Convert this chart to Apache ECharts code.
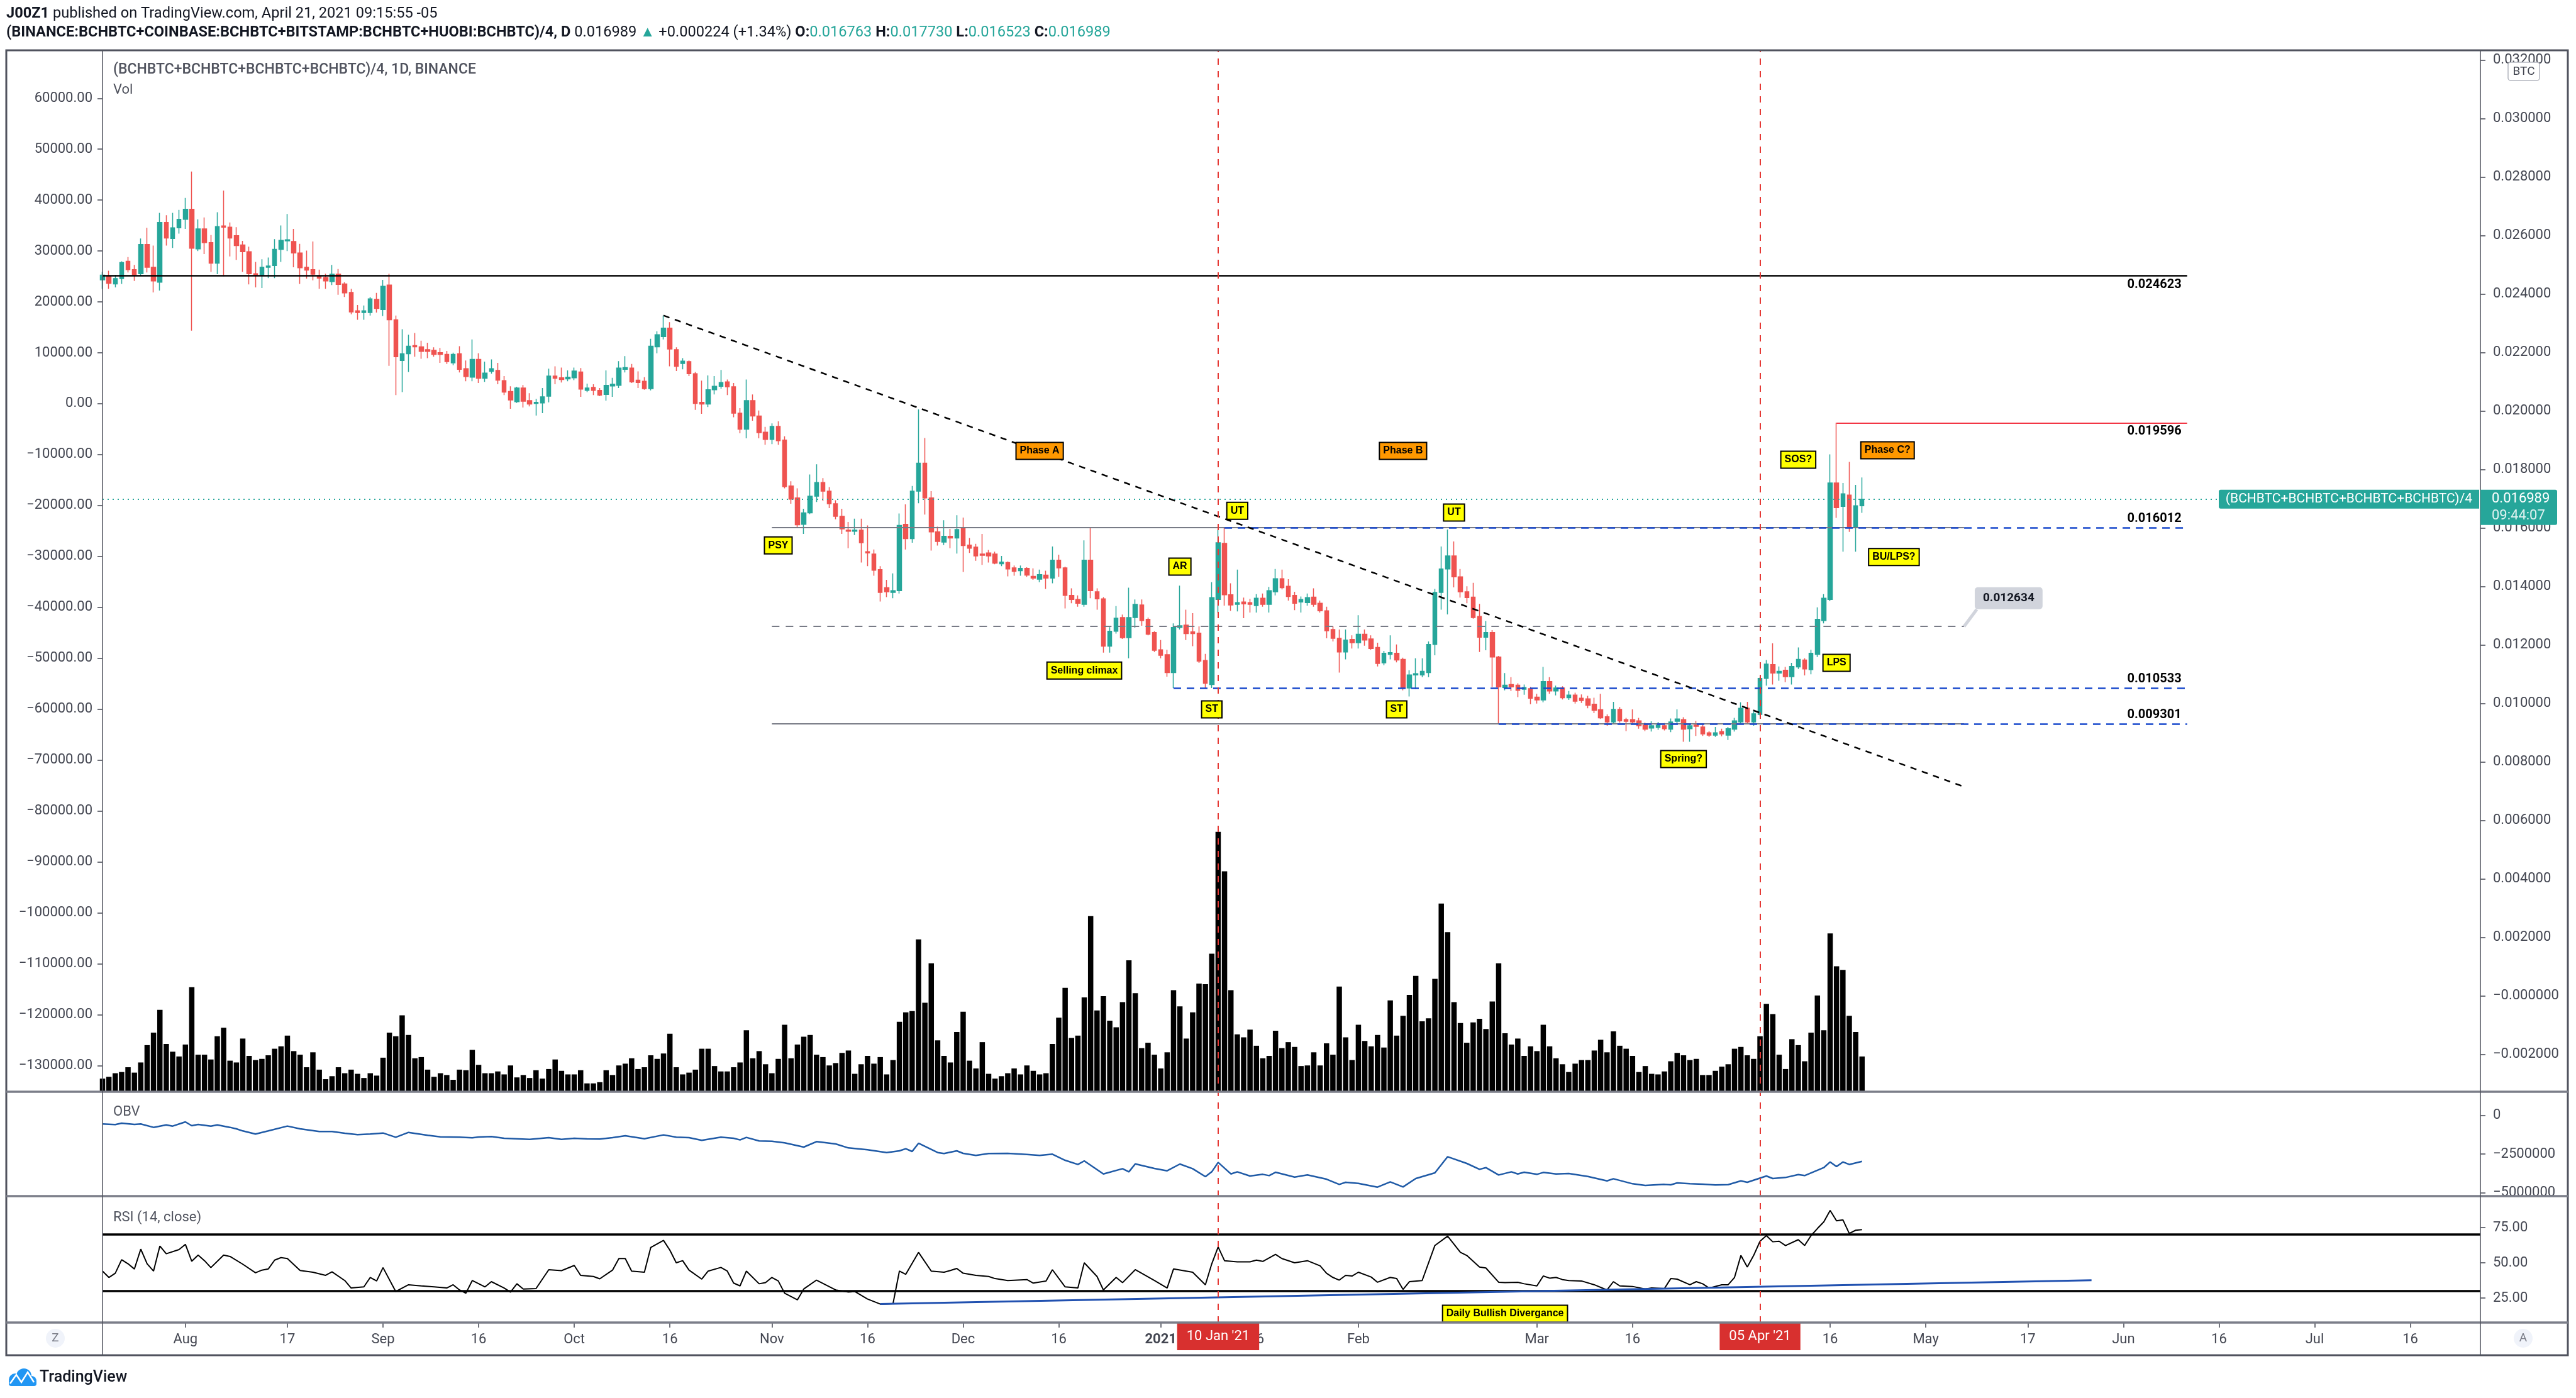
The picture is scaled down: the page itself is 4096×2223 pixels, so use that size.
<!DOCTYPE html>
<html><head><meta charset="utf-8">
<script src="https://cdn.jsdelivr.net/npm/echarts@6/dist/echarts.min.js"></script>
<style>html,body{margin:0;padding:0;background:#fff}#c{width:4096px;height:2223px}</style>
</head><body><div id="c"></div>
<script>
// ---------------- DATA ----------------
const startDate = [2020, 6, 19];   // 19 Jul 2020 (first candle)
const dayCount = 374;              // axis runs to 27 Jul 2021
const opens = [0.02449,0.02461,0.02435,0.02453,0.02512,0.02484,0.02470,0.02570,0.02492,0.02441,
0.02645,0.02590,0.02627,0.02656,0.02690,0.02555,0.02623,0.02576,0.02506,0.02633,
0.02629,0.02600,0.02568,0.02545,0.02470,0.02466,0.02492,0.02498,0.02553,0.02582,
0.02580,0.02541,0.02492,0.02484,0.02461,0.02457,0.02443,0.02468,0.02435,0.02406,
0.02343,0.02337,0.02337,0.02382,0.02347,0.02431,0.02312,0.02173,0.02196,0.02224,
0.02220,0.02210,0.02208,0.02200,0.02194,0.02165,0.02196,0.02145,0.02116,0.02177,
0.02112,0.02136,0.02139,0.02104,0.02067,0.02032,0.02079,0.02036,0.02026,0.02028,
0.02051,0.02120,0.02114,0.02110,0.02114,0.02134,0.02071,0.02081,0.02071,0.02057,
0.02086,0.02088,0.02143,0.02147,0.02106,0.02102,0.02077,0.02220,0.02255,0.02284,
0.02210,0.02163,0.02169,0.02128,0.02030,0.02024,0.02073,0.02085,0.02100,0.02083,
0.01993,0.01938,0.02036,0.01983,0.01928,0.01903,0.01948,0.01901,0.01744,0.01703,
0.01613,0.01652,0.01709,0.01756,0.01726,0.01683,0.01640,0.01593,0.01589,0.01593,
0.01519,0.01511,0.01458,0.01396,0.01380,0.01386,0.01613,0.01564,0.01726,0.01822,
0.01703,0.01587,0.01552,0.01572,0.01566,0.01599,0.01542,0.01535,0.01511,0.01515,
0.01511,0.01478,0.01482,0.01464,0.01454,0.01462,0.01435,0.01425,0.01439,0.01429,
0.01490,0.01464,0.01370,0.01356,0.01339,0.01490,0.01382,0.01358,0.01196,0.01247,
0.01294,0.01225,0.01294,0.01337,0.01288,0.01243,0.01184,0.01167,0.01106,0.01260,
0.01268,0.01245,0.01241,0.01147,0.01065,0.01356,0.01548,0.01372,0.01339,0.01347,
0.01345,0.01335,0.01360,0.01339,0.01382,0.01427,0.01401,0.01370,0.01347,0.01345,
0.01364,0.01343,0.01317,0.01253,0.01223,0.01176,0.01219,0.01208,0.01237,0.01221,
0.01192,0.01139,0.01168,0.01172,0.01151,0.01053,0.01098,0.01098,0.01106,0.01202,
0.01380,0.01460,0.01505,0.01433,0.01382,0.01364,0.01298,0.01227,0.01243,0.01159,
0.01055,0.01065,0.01063,0.01049,0.01051,0.01022,0.01012,0.01075,0.01043,0.01053,
0.01020,0.01029,0.01018,0.01016,0.00998,0.00979,0.00955,0.00937,0.00980,0.00945,
0.00945,0.00941,0.00926,0.00916,0.00918,0.00924,0.00912,0.00939,0.00945,0.00914,
0.00926,0.00920,0.00900,0.00892,0.00904,0.00892,0.00912,0.00937,0.00984,0.00937,
0.00963,0.01086,0.01133,0.01104,0.01114,0.01092,0.01125,0.01149,0.01116,0.01168,
0.01284,0.01356,0.01754,0.01674,0.01713,0.01605,0.016763];
const closes = [0.02465,0.02437,0.02453,0.02508,0.02484,0.02466,0.02570,0.02492,0.02445,0.02645,
0.02592,0.02627,0.02656,0.02690,0.02557,0.02623,0.02576,0.02506,0.02631,0.02629,
0.02592,0.02566,0.02545,0.02470,0.02466,0.02492,0.02496,0.02553,0.02584,0.02586,
0.02541,0.02490,0.02482,0.02468,0.02455,0.02445,0.02468,0.02433,0.02404,0.02339,
0.02337,0.02343,0.02384,0.02351,0.02427,0.02312,0.02186,0.02196,0.02222,0.02220,
0.02204,0.02204,0.02194,0.02194,0.02169,0.02194,0.02143,0.02118,0.02177,0.02112,
0.02130,0.02145,0.02106,0.02065,0.02038,0.02079,0.02034,0.02024,0.02030,0.02049,
0.02120,0.02112,0.02108,0.02116,0.02137,0.02075,0.02079,0.02071,0.02055,0.02088,
0.02092,0.02147,0.02149,0.02100,0.02098,0.02077,0.02222,0.02261,0.02284,0.02212,
0.02153,0.02171,0.02128,0.02026,0.02024,0.02073,0.02085,0.02098,0.02083,0.01993,
0.01938,0.02036,0.01983,0.01926,0.01903,0.01948,0.01899,0.01742,0.01699,0.01611,
0.01652,0.01709,0.01756,0.01726,0.01683,0.01640,0.01597,0.01589,0.01593,0.01550,
0.01515,0.01456,0.01380,0.01382,0.01386,0.01609,0.01564,0.01726,0.01822,0.01703,
0.01587,0.01554,0.01572,0.01566,0.01595,0.01540,0.01531,0.01505,0.01507,0.01505,
0.01480,0.01484,0.01460,0.01452,0.01462,0.01439,0.01429,0.01441,0.01429,0.01490,
0.01464,0.01370,0.01356,0.01343,0.01490,0.01386,0.01358,0.01196,0.01247,0.01292,
0.01225,0.01294,0.01339,0.01284,0.01237,0.01182,0.01165,0.01106,0.01260,0.01266,
0.01239,0.01239,0.01145,0.01069,0.01362,0.01550,0.01372,0.01337,0.01345,0.01341,
0.01339,0.01360,0.01339,0.01386,0.01427,0.01396,0.01366,0.01343,0.01356,0.01362,
0.01339,0.01317,0.01249,0.01223,0.01176,0.01217,0.01208,0.01237,0.01217,0.01188,
0.01137,0.01172,0.01174,0.01149,0.01053,0.01098,0.01102,0.01110,0.01202,0.01380,
0.01460,0.01505,0.01433,0.01382,0.01362,0.01294,0.01227,0.01243,0.01159,0.01057,
0.01063,0.01057,0.01045,0.01055,0.01018,0.01012,0.01075,0.01043,0.01053,0.01020,
0.01029,0.01008,0.01010,0.00994,0.00977,0.00951,0.00937,0.00980,0.00941,0.00939,
0.00937,0.00924,0.00912,0.00924,0.00926,0.00914,0.00937,0.00947,0.00912,0.00924,
0.00922,0.00896,0.00892,0.00900,0.00896,0.00914,0.00941,0.00984,0.00937,0.00965,
0.01086,0.01135,0.01104,0.01110,0.01092,0.01127,0.01151,0.01118,0.01172,0.01288,
0.01360,0.01754,0.01670,0.01717,0.01601,0.016765,0.016989];
const lows = [0.02418,0.02418,0.02423,0.02435,0.02474,0.02445,0.02463,0.02474,0.02406,0.02412,
0.02566,0.02558,0.02607,0.02623,0.02275,0.02547,0.02537,0.02476,0.02468,0.02461,
0.02529,0.02517,0.02476,0.02433,0.02423,0.02421,0.02455,0.02455,0.02510,0.02547,
0.02492,0.02435,0.02453,0.02447,0.02418,0.02418,0.02431,0.02398,0.02390,0.02331,
0.02312,0.02312,0.02327,0.02337,0.02325,0.02155,0.02055,0.02065,0.02134,0.02186,
0.02179,0.02181,0.02186,0.02165,0.02161,0.02157,0.02132,0.02102,0.02102,0.02096,
0.02100,0.02128,0.02092,0.02055,0.02008,0.02028,0.02012,0.02016,0.01985,0.01993,
0.02030,0.02092,0.02098,0.02102,0.02106,0.02049,0.02065,0.02055,0.02051,0.02036,
0.02049,0.02079,0.02132,0.02096,0.02079,0.02073,0.02071,0.02198,0.02245,0.02153,
0.02137,0.02143,0.02120,0.02004,0.01991,0.02014,0.02057,0.02077,0.02055,0.01979,
0.01924,0.01907,0.01967,0.01907,0.01885,0.01887,0.01885,0.01736,0.01683,0.01601,
0.01580,0.01648,0.01689,0.01693,0.01668,0.01630,0.01580,0.01531,0.01576,0.01482,
0.01470,0.01437,0.01349,0.01364,0.01360,0.01376,0.01527,0.01550,0.01685,0.01646,
0.01523,0.01540,0.01542,0.01531,0.01513,0.01450,0.01515,0.01488,0.01474,0.01482,
0.01476,0.01470,0.01435,0.01437,0.01437,0.01433,0.01423,0.01415,0.01392,0.01411,
0.01433,0.01325,0.01343,0.01331,0.01331,0.01360,0.01321,0.01174,0.01174,0.01239,
0.01221,0.01155,0.01259,0.01266,0.01233,0.01176,0.01155,0.01092,0.01053,0.01253,
0.01217,0.01196,0.01139,0.01053,0.01053,0.01309,0.01335,0.01317,0.01315,0.01292,
0.01311,0.01311,0.01331,0.01311,0.01370,0.01390,0.01352,0.01319,0.01311,0.01335,
0.01331,0.01311,0.01223,0.01212,0.01106,0.01151,0.01188,0.01188,0.01198,0.01184,
0.01127,0.01131,0.01151,0.01141,0.01045,0.01024,0.01049,0.01090,0.01090,0.01165,
0.01321,0.01305,0.01397,0.01362,0.01343,0.01290,0.01176,0.01182,0.01057,0.00930,
0.01045,0.01043,0.01022,0.01030,0.00998,0.01000,0.01004,0.01033,0.01028,0.01014,
0.01012,0.01000,0.01002,0.00984,0.00967,0.00947,0.00924,0.00930,0.00935,0.00906,
0.00928,0.00914,0.00906,0.00904,0.00910,0.00908,0.00902,0.00930,0.00869,0.00869,
0.00889,0.00889,0.00886,0.00886,0.00888,0.00875,0.00904,0.00930,0.00930,0.00924,
0.00957,0.01061,0.01065,0.01078,0.01073,0.01065,0.01118,0.01096,0.01100,0.01159,
0.01274,0.01350,0.01635,0.01519,0.01587,0.01519,0.016523];
const highs = [0.02476,0.02480,0.02466,0.02512,0.02527,0.02500,0.02590,0.02627,0.02566,0.02678,
0.02670,0.02678,0.02688,0.02729,0.02819,0.02656,0.02662,0.02602,0.02680,0.02754,
0.02645,0.02629,0.02582,0.02562,0.02510,0.02519,0.02525,0.02588,0.02635,0.02674,
0.02623,0.02572,0.02549,0.02580,0.02484,0.02470,0.02500,0.02486,0.02441,0.02418,
0.02363,0.02361,0.02390,0.02404,0.02449,0.02470,0.02327,0.02280,0.02261,0.02267,
0.02241,0.02234,0.02218,0.02216,0.02206,0.02200,0.02222,0.02173,0.02245,0.02198,
0.02169,0.02177,0.02165,0.02120,0.02085,0.02083,0.02089,0.02061,0.02042,0.02079,
0.02145,0.02153,0.02149,0.02139,0.02149,0.02147,0.02094,0.02092,0.02079,0.02139,
0.02114,0.02171,0.02188,0.02161,0.02136,0.02116,0.02247,0.02273,0.02327,0.02304,
0.02218,0.02181,0.02173,0.02134,0.02104,0.02122,0.02120,0.02141,0.02108,0.02096,
0.02010,0.02108,0.02057,0.02002,0.01946,0.01958,0.01965,0.01914,0.01760,0.01736,
0.01666,0.01783,0.01818,0.01771,0.01740,0.01695,0.01666,0.01621,0.01632,0.01632,
0.01609,0.01527,0.01470,0.01423,0.01445,0.01650,0.01681,0.01744,0.02006,0.01908,
0.01726,0.01605,0.01627,0.01597,0.01644,0.01636,0.01566,0.01546,0.01580,0.01525,
0.01519,0.01505,0.01486,0.01472,0.01472,0.01466,0.01462,0.01458,0.01454,0.01537,
0.01509,0.01468,0.01394,0.01370,0.01558,0.01601,0.01394,0.01364,0.01261,0.01333,
0.01304,0.01396,0.01356,0.01356,0.01294,0.01247,0.01217,0.01184,0.01274,0.01403,
0.01321,0.01309,0.01264,0.01170,0.01415,0.01595,0.01601,0.01411,0.01458,0.01362,
0.01358,0.01374,0.01376,0.01399,0.01460,0.01458,0.01425,0.01382,0.01366,0.01376,
0.01394,0.01352,0.01331,0.01264,0.01253,0.01253,0.01233,0.01302,0.01253,0.01233,
0.01208,0.01180,0.01233,0.01202,0.01157,0.01114,0.01155,0.01155,0.01212,0.01392,
0.01537,0.01595,0.01554,0.01460,0.01401,0.01413,0.01341,0.01282,0.01251,0.01163,
0.01104,0.01090,0.01069,0.01065,0.01057,0.01033,0.01125,0.01090,0.01061,0.01059,
0.01043,0.01037,0.01031,0.01026,0.01020,0.01033,0.00963,0.01006,0.00988,0.00951,
0.00980,0.00951,0.00935,0.00939,0.00937,0.00933,0.00949,0.00980,0.00953,0.00932,
0.00941,0.00932,0.00906,0.00920,0.00914,0.00920,0.00951,0.01004,0.01006,0.00977,
0.01090,0.01149,0.01206,0.01127,0.01125,0.01139,0.01192,0.01155,0.01184,0.01329,
0.01374,0.01852,0.01960,0.01754,0.01826,0.01748,0.017730];
// volume in relative units (bar heights)
const volumes = [22,25,31,33,41,32,49,78,99,137,80,67,59,79,175,62,62,54,93,107,
52,49,89,60,53,55,61,72,76,94,68,62,41,66,37,21,26,41,31,37,
30,23,31,27,57,99,93,128,95,56,58,37,25,31,28,20,37,36,70,45,
31,31,34,29,44,24,28,23,36,22,38,54,35,29,29,36,14,14,16,36,
28,44,47,56,38,41,61,55,64,97,41,29,32,37,72,72,43,34,34,41,
49,103,56,68,46,31,55,112,56,79,92,95,62,58,44,48,65,69,30,46,
60,47,58,29,53,117,133,135,255,149,215,86,60,49,100,134,52,39,83,30,
22,26,31,39,29,44,35,29,31,80,124,174,90,94,158,294,136,160,119,108,
150,220,165,73,82,62,39,66,170,143,89,133,181,180,231,435,369,170,96,91,
104,77,56,60,102,73,83,75,43,44,66,44,81,62,176,91,53,112,85,76,
95,74,153,94,127,162,194,118,123,189,315,267,150,115,82,116,122,105,151,215,
98,79,89,60,76,68,112,76,56,46,33,47,53,53,69,87,66,101,77,72,
60,33,43,30,29,34,51,65,61,53,55,28,28,35,42,46,72,75,61,55,
93,147,130,62,38,88,78,51,99,161,103,265,210,204,127,100,59];
const obvDays = [0,2,3,5,6,8,10,11,13,14,15,17,18,20,21,22,24,26,29,31,34,36,38,40,42,44,46,48,51,53,
56,58,59,61,63,67,70,72,74,76,78,80,82,85,88,90,92,94,97,99,100,101,103,105,107,110,112,115,117,120,
123,125,126,127,128,131,132,134,135,137,139,142,145,147,149,151,153,154,157,160,161,162,165,167,169,171,173,174,175,177,
178,180,182,183,184,187,189,192,194,195,197,200,202,204,206,209,211,214,216,217,219,221,222,223,225,226,228,230,233,236,
237,240,242,245,246,247,249,251,253,255,257,258,261,262,264,266,267,270,271,272,273,274,276];
const obvThousands = [-568,-608,-514,-595,-568,-784,-622,-703,-432,-676,-595,-703,-622,-784,-878,-1014,-1216,-1014,-703,-878,
-1054,-1054,-1162,-1257,-1216,-1149,-1419,-1108,-1297,-1392,-1419,-1460,-1405,-1378,-1487,-1554,-1446,-1554,-1487,-1527,
-1541,-1446,-1324,-1514,-1270,-1419,-1446,-1622,-1419,-1487,-1595,-1432,-1662,-1676,-1784,-2054,-1703,-1851,-2108,-2230,
-2405,-2297,-2162,-2338,-1811,-2405,-2473,-2297,-2460,-2595,-2473,-2460,-2527,-2595,-2514,-2906,-3176,-2946,-3784,-3446,
-3649,-3135,-3433,-3581,-3149,-3446,-3960,-3649,-3041,-3784,-3649,-3919,-3811,-3892,-3676,-3987,-3851,-4122,-4460,-4324,
-4392,-4635,-4297,-4622,-4081,-3716,-2676,-3108,-3487,-3379,-3851,-3649,-3784,-3676,-3811,-3689,-3784,-3757,-3946,-4230,
-4095,-4419,-4527,-4460,-4487,-4365,-4419,-4446,-4500,-4473,-4230,-4324,-3919,-4081,-4014,-3824,-3892,-3379,-3014,-3311,
-3014,-3176,-2973];
const rsiDays = [0,1,2,3,4,5,6,7,8,9,10,12,13,14,15,16,17,19,20,22,24,25,26,27,28,29,31,33,35,36,
38,39,41,42,43,44,46,48,50,52,54,55,56,57,58,60,61,63,64,65,66,68,70,72,74,75,77,78,80,81,
82,83,85,86,88,89,90,91,92,94,95,97,98,99,100,101,103,104,105,106,107,109,110,112,115,117,118,120,122,124,
125,126,128,130,132,133,134,135,137,139,140,142,145,146,148,149,151,153,154,156,157,159,160,162,165,167,168,170,171,173,
174,175,176,178,180,181,182,184,185,187,189,191,192,193,194,195,196,197,199,200,202,203,204,205,207,209,211,213,214,216,
217,219,220,222,223,225,226,227,228,229,230,232,234,236,237,238,240,242,243,245,246,247,249,250,251,252,254,255,256,257,
258,259,260,261,262,263,264,266,267,268,269,270,271,272,273,274,275,276];
const rsiValues = [44.1,39.6,42.6,52.2,49.3,45.6,59.7,49.3,44.1,61.9,56.4,59.4,63.1,51.1,55.5,51.5,46.6,55.5,54.5,49.0,
42.9,44.8,45.6,51.9,53.7,53.0,44.5,43.3,41.1,43.6,37.4,32.1,32.9,39.6,37.1,46.6,29.6,34.4,33.6,32.9,
32.1,34.4,30.7,28.4,37.4,32.9,36.6,32.1,29.2,35.1,31.4,31.7,45.1,44.4,48.1,41.1,40.3,38.6,44.8,53.0,
53.0,44.1,43.3,60.9,65.9,58.9,50.0,51.5,44.8,38.4,44.1,46.7,44.1,35.6,33.6,44.1,35.1,35.9,39.6,37.1,
28.4,23.7,31.4,37.7,30.7,29.2,29.6,24.3,20.7,21.0,44.1,41.8,57.4,44.1,43.3,44.5,46.0,42.6,41.1,40.3,
38.8,37.4,38.1,35.6,37.1,45.1,32.9,32.1,50.0,40.3,30.7,39.6,35.9,45.1,37.4,32.1,45.6,44.1,43.3,34.4,
49.3,61.2,51.5,50.7,50.7,51.9,51.0,56.0,53.0,50.0,51.5,47.8,42.6,39.6,37.7,41.1,40.6,43.3,39.9,36.2,
39.6,38.8,31.1,36.6,37.4,62.3,68.9,57.4,55.2,47.0,46.3,36.2,35.9,36.2,35.1,33.6,40.6,39.1,39.6,38.1,
37.4,37.1,34.4,30.7,36.6,33.6,33.2,31.4,32.1,31.7,38.8,38.4,34.4,36.6,35.1,32.1,34.4,34.4,39.6,55.2,
47.0,55.2,65.3,69.3,64.9,65.3,62.2,66.4,62.3,69.3,74.3,79.0,87.2,79.8,80.5,70.8,73.1,73.6];
const tickDates = ['2020-08-01','2020-08-17','2020-09-01','2020-09-16','2020-10-01','2020-10-16','2020-11-01','2020-11-16',
'2020-12-01','2020-12-16','2021-01-01','2021-01-16','2021-02-01','2021-03-01','2021-03-16','2021-04-01','2021-04-16',
'2021-05-01','2021-05-17','2021-06-01','2021-06-16','2021-07-01','2021-07-16'];
const tickLabels = ['Aug','17','Sep','16','Oct','16','Nov','16','Dec','16','2021','16','Feb','Mar','16','Apr','16','May','17','Jun','16','Jul','16'];
const lastPrice = 0.016989;
const levelPrices = {top:0.024623, sos:0.019596, ut:0.016012, mid:0.012634, st:0.010533, low:0.009301};
const trendStart = [88, 0.02327], trendEnd = [292, 0.007155];
const rsiTrendStart = [122, 20.8], rsiTrendEnd = [312, 37.6];
const markerDays = [175, 260];  // 10 Jan '21, 05 Apr '21
const markerTexts = ["10 Jan '21", "05 Apr '21"];
const annotations = [
  ['Phase A',147,0.01864,'o'],['Phase B',204,0.01864,'o'],['Phase C?',280,0.01866,'o'],
  ['PSY',106,0.01541,'y'],['UT',178,0.01659,'y'],['UT',212,0.01653,'y'],['AR',169,0.01468,'y'],
  ['Selling climax',154,0.01113,'y'],['ST',174,0.00980,'y'],['ST',203,0.00980,'y'],
  ['SOS?',266,0.01834,'y'],['BU/LPS?',281,0.01501,'y'],['LPS',272,0.01139,'y'],['Spring?',248,0.00810,'y']
];
const callout = ['0.012634', 299, 0.01360];
const divergence = ['Daily Bullish Divergance', 220, 13.8];

// ---------------- BUILD ----------------
const categories = [];
for (let i = 0; i < dayCount; i++) {
  const d = new Date(Date.UTC(startDate[0], startDate[1], startDate[2] + i));
  categories.push(d.toISOString().slice(0, 10));
}
const cat = i => categories[i];
const tickMap = {}; tickDates.forEach((d, k) => tickMap[d] = tickLabels[k]);
const UP = '#26a69a', DOWN = '#ef5350', AX = '#434651';
const FONT = 'Roboto, "Liberation Sans", Arial, sans-serif';
const LFONT = '"Liberation Sans", Arial, sans-serif';
const MINUS = '\u2212';

const candleData = opens.map((o, i) => [o, closes[i], lows[i], highs[i]]);
const obvData = obvDays.map((d, k) => [cat(d), obvThousands[k] * 1000]);
const rsiData = rsiDays.map((d, k) => [cat(d), rsiValues[k]]);

function seg(x1, y1, x2, y2, color, width, type, label) {
  const a = {coord: [cat(x1), y1], lineStyle: {color, width, type}};
  if (label) a.label = label;
  return [a, {coord: [cat(x2), y2]}];
}
function lvlLabel(text, pos) {
  return {show: true, position: pos, formatter: text, color: '#000', fontSize: 20, fontWeight: 'bold',
    fontFamily: FONT, distance: [9, 4]};
}
const BLUE = '#1848cc', GRAY = '#787b86';
const priceLines = [
  seg(0, lastPrice, dayCount - 1, lastPrice, UP, 2, [2, 6]),
  seg(0, levelPrices.top, 327, levelPrices.top, '#000', 2.5, 'solid', lvlLabel('0.024623', 'insideEndBottom')),
  seg(272, levelPrices.sos, 327, levelPrices.sos, '#f23645', 2, 'solid', lvlLabel('0.019596', 'insideEndBottom')),
  seg(105, levelPrices.ut, 292, levelPrices.ut, GRAY, 2, 'solid'),
  seg(176, levelPrices.ut, 327, levelPrices.ut, BLUE, 2.5, [12, 9], lvlLabel('0.016012', 'insideEndTop')),
  seg(105, levelPrices.mid, 292, levelPrices.mid, GRAY, 2, [12, 10]),
  seg(168, levelPrices.st, 327, levelPrices.st, BLUE, 2.5, [12, 9], lvlLabel('0.010533', 'insideEndTop')),
  seg(105, levelPrices.low, 292, levelPrices.low, GRAY, 2, 'solid'),
  seg(219, levelPrices.low, 327, levelPrices.low, BLUE, 2.5, [12, 9], lvlLabel('0.009301', 'insideEndTop')),
  seg(trendStart[0], trendStart[1], trendEnd[0], trendEnd[1], '#000', 2.5, [10, 9]),
  seg(294, 0.01322, 292, levelPrices.mid, '#d1d4dc', 5, 'solid')
];
function boxLabel(text, bg) {
  return {show: true, position: 'inside', formatter: text, backgroundColor: bg, borderColor: '#000', borderWidth: 2,
    padding: [3, 5], fontSize: 16, lineHeight: 19, fontWeight: 'bold', color: '#000', fontFamily: LFONT};
}
const priceMarks = annotations.map(a => ({coord: [cat(a[1]), a[2]], symbol: 'rect', symbolSize: 1,
  itemStyle: {color: 'rgba(0,0,0,0)'}, label: boxLabel(a[0], a[3] === 'o' ? '#ff9800' : '#ffff00')}));
priceMarks.push({coord: [cat(callout[1]), callout[2]], symbol: 'rect', symbolSize: 1, itemStyle: {color: 'rgba(0,0,0,0)'},
  label: {show: true, position: 'inside', formatter: callout[0], backgroundColor: '#d1d4dc', borderRadius: 5,
    padding: [8, 13], fontSize: 19, fontWeight: 'bold', color: '#131722', fontFamily: FONT}});

const fmtPrice = v => Math.abs(v) < 1e-12 ? MINUS + '0.000000' : (v < 0 ? MINUS + Math.abs(v).toFixed(6) : v.toFixed(6));
const fmtLeft = v => v < 0 ? MINUS + Math.abs(v).toFixed(2) : v.toFixed(2);
const axLabel = (fmt, margin) => ({fontSize: 22, color: AX, fontFamily: FONT, margin, formatter: fmt});
const axTick = {show: true, length: 8, lineStyle: {color: AX, width: 1.5}};

const G = (top, height) => ({left: 163, right: 152, top, height, containLabel: false, outerBoundsMode: 'none'});
const hiddenX = gi => ({type: 'category', data: categories, boundaryGap: false, gridIndex: gi, show: false});

const option = {
  animation: false,
  backgroundColor: '#ffffff',
  grid: [G(80, 1656), G(95.7, 1581), G(156.3, 1538), G(1773.3, 123.4), G(1896, 224), G(80, 2023)],
  xAxis: [hiddenX(0), hiddenX(1), hiddenX(2), hiddenX(3), hiddenX(4), {
    type: 'category', data: categories, boundaryGap: false, gridIndex: 5, position: 'bottom',
    axisLine: {show: false}, splitLine: {show: false},
    axisTick: {show: true, length: 8, lineStyle: {color: AX, width: 1.5}, interval: (i, v) => tickMap[v] !== undefined},
    axisLabel: {interval: (i, v) => tickMap[v] !== undefined, margin: 16, fontSize: 22, color: AX, fontFamily: FONT,
      formatter: v => { const t = tickMap[v] || ''; return /^\d{4}$/.test(t) ? '{y|' + t + '}' : t; },
      rich: {y: {fontWeight: 'bold', fontSize: 22, color: AX, fontFamily: FONT}}}
  }],
  yAxis: [
    {type: 'value', gridIndex: 0, min: 0, max: 1743, show: false},
    {type: 'value', gridIndex: 1, position: 'right', min: -0.002, max: 0.032, interval: 0.002,
      splitLine: {show: false}, axisLine: {show: false}, axisTick: axTick, axisLabel: axLabel(fmtPrice, 20)},
    {type: 'value', gridIndex: 2, position: 'left', min: -130000, max: 60000, interval: 10000,
      splitLine: {show: false}, axisLine: {show: false}, axisTick: axTick, axisLabel: axLabel(fmtLeft, 16)},
    {type: 'value', gridIndex: 3, position: 'right', min: -5000000, max: 0, interval: 2500000,
      splitLine: {show: false}, axisLine: {show: false}, axisTick: axTick,
      axisLabel: axLabel(v => v === 0 ? '0' : (v < 0 ? MINUS + Math.abs(v) : String(v)), 20)},
    {type: 'value', gridIndex: 4, position: 'right', min: 0, max: 100, interval: 25,
      splitLine: {show: false}, axisLine: {show: false},
      axisTick: Object.assign({customValues: [25, 50, 75]}, axTick),
      axisLabel: Object.assign({customValues: [25, 50, 75]}, axLabel(v => (v === 0 || v === 100) ? '' : v.toFixed(2), 20))},
    {type: 'value', gridIndex: 5, min: 0, max: 1, show: false}
  ],
  series: [
    {type: 'bar', name: 'Vol', xAxisIndex: 0, yAxisIndex: 0, data: volumes, barWidth: 8.5,
      itemStyle: {color: '#000'}, silent: true},
    {type: 'candlestick', name: 'price', xAxisIndex: 1, yAxisIndex: 1, data: candleData, barWidth: 7, clip: true,
      itemStyle: {color: UP, color0: DOWN, borderColor: UP, borderColor0: DOWN, borderWidth: 1.5},
      markLine: {silent: true, symbol: ['none', 'none'], label: {show: false}, data: priceLines, animation: false},
      markPoint: {silent: true, data: priceMarks, animation: false}},
    {type: 'line', xAxisIndex: 2, yAxisIndex: 2, data: [[cat(0), 0]], showSymbol: false, lineStyle: {opacity: 0}, silent: true},
    {type: 'line', name: 'OBV', xAxisIndex: 3, yAxisIndex: 3, data: obvData, showSymbol: false, symbol: 'none',
      lineStyle: {color: '#1f5aa6', width: 2.5}, silent: true},
    {type: 'line', name: 'RSI', xAxisIndex: 4, yAxisIndex: 4, data: rsiData, showSymbol: false, symbol: 'none',
      lineStyle: {color: '#000', width: 2}, silent: true,
      markLine: {silent: true, symbol: ['none', 'none'], label: {show: false}, animation: false, data: [
        {yAxis: 70, lineStyle: {color: '#000', width: 3.5, type: 'solid'}},
        {yAxis: 30, lineStyle: {color: '#000', width: 3.5, type: 'solid'}},
        [{coord: [cat(rsiTrendStart[0]), rsiTrendStart[1]], lineStyle: {color: '#2151b0', width: 3, type: 'solid'}},
         {coord: [cat(rsiTrendEnd[0]), rsiTrendEnd[1]]}]
      ]},
      markPoint: {silent: true, animation: false, data: [{coord: [cat(divergence[1]), divergence[2]], symbol: 'rect',
        symbolSize: 1, itemStyle: {color: 'rgba(0,0,0,0)'}, label: boxLabel(divergence[0], '#ffff00')}]}},
    {type: 'line', xAxisIndex: 5, yAxisIndex: 5, data: [[cat(0), 0.5]], showSymbol: false, lineStyle: {opacity: 0}, silent: true,
      markLine: {silent: true, symbol: ['none', 'none'], animation: false,
        data: markerDays.map((d, k) => ({xAxis: cat(d), lineStyle: {color: '#e53935', width: 2, type: [10, 10]},
          label: {show: true, position: 'start', distance: 0, formatter: markerTexts[k], backgroundColor: '#d8302f',
            color: '#fff', fontSize: 22, fontFamily: FONT, padding: [11, 15]}}))}}
  ]
};

const chart = echarts.init(document.getElementById('c'), null, {width: 4096, height: 2223});
chart.setOption(option);

const tagY = chart.convertToPixel({yAxisIndex: 1}, lastPrice);
function T(x, y, text, size, fill, opts) {
  const st = Object.assign({text, fill, fontSize: size, fontFamily: FONT, align: 'left', verticalAlign: 'middle',
    textAlign: 'left', textVerticalAlign: 'middle'}, opts || {});
  return {type: 'text', x, y, z: 120, style: st};
}
const HF = 23.6;
const gfx = [];
gfx.push({type: 'rect', z: 100, shape: {x: 10, y: 80, width: 4073, height: 2075}, style: {fill: 'none', stroke: '#50535e', lineWidth: 3}});
[1736, 1902, 2103].forEach(y => gfx.push({type: 'line', z: 100, shape: {x1: 10, y1: y, x2: 4083, y2: y}, style: {stroke: '#7b7e89', lineWidth: 3.5}}));
[163, 3944].forEach(x => gfx.push({type: 'line', z: 100, shape: {x1: x, y1: 80, x2: x, y2: 2155}, style: {stroke: '#50535e', lineWidth: 1.5}}));
// header
gfx.push(T(10, 22, '{b|J00Z1} published on TradingView.com, April 21, 2021 09:15:55 -05', HF, '#131722',
  {rich: {b: {fontWeight: 'bold', fontSize: HF, fontFamily: FONT, fill: '#131722', color: '#131722'}}}));
gfx.push(T(10, 52, '{b|(BINANCE:BCHBTC+COINBASE:BCHBTC+BITSTAMP:BCHBTC+HUOBI:BCHBTC)/4, D} 0.016989 {g|\u25B2} +0.000224 (+1.34%) {b|O:}{g|0.016763} {b|H:}{g|0.017730} {b|L:}{g|0.016523} {b|C:}{g|0.016989}', HF, '#131722',
  {rich: {b: {fontWeight: 'bold', fontSize: HF, fontFamily: FONT, fill: '#131722', color: '#131722'},
          g: {fontSize: HF, fontFamily: FONT, fill: UP, color: UP}}}));
// pane legends
gfx.push(T(180, 111, '(BCHBTC+BCHBTC+BCHBTC+BCHBTC)/4, 1D, BINANCE', 23, '#50535e', {fontWeight: 500}));
gfx.push(T(180, 143, 'Vol', 22, '#50535e'));
gfx.push(T(180, 1768, 'OBV', 22, '#50535e'));
gfx.push(T(180, 1936, 'RSI (14, close)', 22, '#50535e'));
// BTC badge
gfx.push({type: 'rect', z: 115, shape: {x: 3988, y: 99, width: 50, height: 29, r: 4}, style: {fill: '#fff', stroke: '#b2b5be', lineWidth: 1.5}});
gfx.push(T(4013, 114, 'BTC', 19, AX, {align: 'center', textAlign: 'center'}));
// last price tag
gfx.push({type: 'rect', z: 110, shape: {x: 3528, y: tagY - 15, width: 414, height: 30, r: [3, 0, 0, 3]}, style: {fill: UP}});
gfx.push(T(3735, tagY, '(BCHBTC+BCHBTC+BCHBTC+BCHBTC)/4', 21, '#fff', {align: 'center', textAlign: 'center'}));
gfx.push({type: 'rect', z: 110, shape: {x: 3944, y: tagY - 15, width: 122, height: 56, r: [0, 3, 3, 0]}, style: {fill: UP}});
gfx.push(T(3962, tagY, '0.016989', 22, '#fff'));
gfx.push(T(3962, tagY + 27, '09:44:07', 22, 'rgba(255,255,255,0.85)'));
// Z / A buttons
[[88, 'Z'], [4012, 'A']].forEach(b => {
  gfx.push({type: 'circle', z: 110, shape: {cx: b[0], cy: 2128, r: 15}, style: {fill: '#f0f3fa'}});
  gfx.push(T(b[0], 2128, b[1], 19, '#787b86', {align: 'center', textAlign: 'center'}));
});
// TradingView logo
gfx.push({type: 'circle', z: 110, shape: {cx: 24, cy: 2194, r: 10}, style: {fill: '#2196f3'}});
gfx.push({type: 'circle', z: 110, shape: {cx: 38, cy: 2188, r: 12}, style: {fill: '#2196f3'}});
gfx.push({type: 'circle', z: 110, shape: {cx: 50, cy: 2196, r: 8}, style: {fill: '#2196f3'}});
gfx.push({type: 'rect', z: 110, shape: {x: 14, y: 2194, width: 44, height: 10, r: 4}, style: {fill: '#2196f3'}});
gfx.push({type: 'polyline', z: 111, shape: {points: [[16, 2200], [26, 2186], [34, 2198], [44, 2182], [54, 2198]]}, style: {stroke: '#fff', lineWidth: 2.5, fill: 'none'}});
gfx.push(T(63, 2191, 'TradingView', 25, '#131722', {fontWeight: 500}));
chart.setOption({graphic: gfx});
</script>
</body></html>
